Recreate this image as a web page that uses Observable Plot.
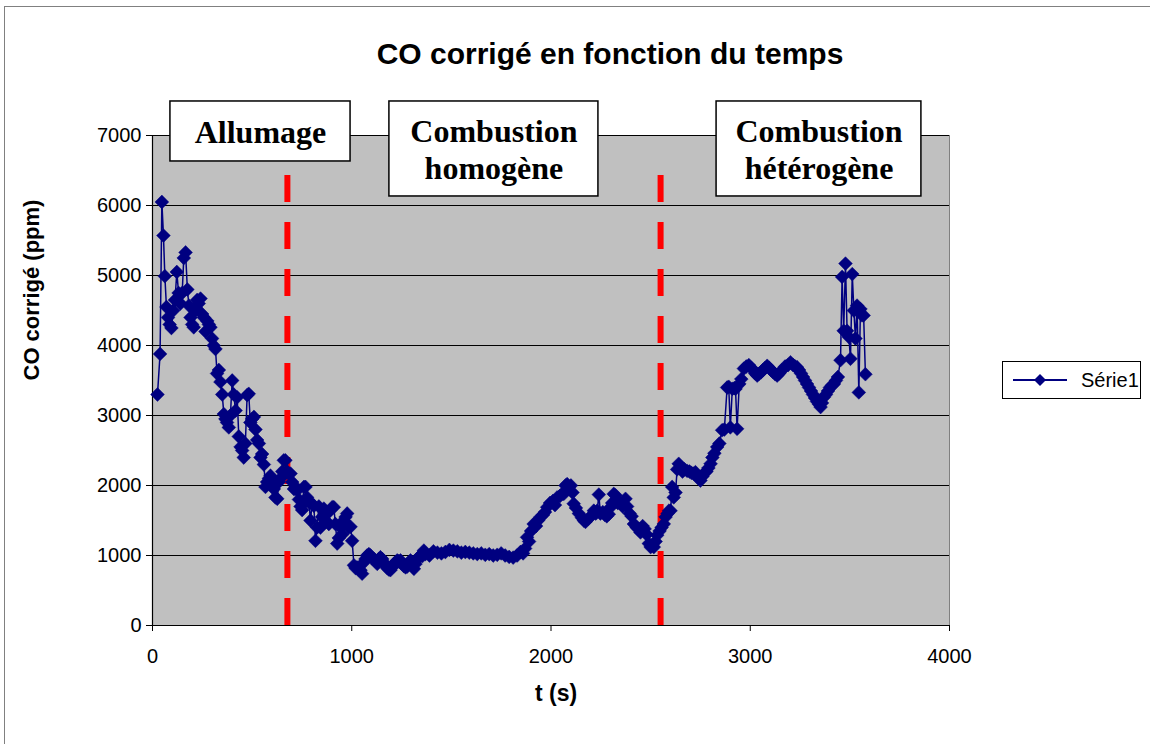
<!DOCTYPE html>
<html>
<head>
<meta charset="utf-8">
<script src="https://cdn.jsdelivr.net/npm/d3@7"></script>
<script src="https://cdn.jsdelivr.net/npm/@observablehq/plot@0.6"></script>
<style>
  html, body { margin: 0; padding: 0; background: #fff; }
  #wrap { position: relative; width: 1150px; height: 744px; overflow: hidden; font-family: "Liberation Sans", Arial, sans-serif; }
  #border { position: absolute; left: 4px; top: 6px; width: 1160px; height: 760px; border: 1px solid #808080; box-sizing: border-box; }
  #title { position: absolute; left: 0; width: 1220px; top: 37px; text-align: center; font-weight: bold; font-size: 30px; color: #000; }
  #legend { position: absolute; left: 1002px; top: 361px; width: 139px; height: 38px; border: 1px solid #000; box-sizing: border-box; background: #fff; display: flex; align-items: center; }
  #legend span { font-size: 20px; margin-left: 4px; }
  #chart { position: absolute; left: 0; top: 0; }
</style>
</head>
<body>
<div id="wrap">
  <div id="border"></div>
  <div id="chart"></div>
  <div id="title"></div>
  <div id="legend"></div>
</div>
<script>
// ---- data ----
const titleText = "CO corrigé en fonction du temps";
const xLabel = "t (s)";
const yLabel = "CO corrigé (ppm)";
const seriesName = "Série1";

const times = [25,38,47,55,62,70,78,86,95,104,113,122,131,140,149,157,166,175,183,191,199,207,215,224,232,241,249,258,266,275,283,291,299,307,316,324,333,341,350,358,366,374,383,391,400,408,417,425,433,442,450,458,466,475,483,491,500,509,517,525,534,542,550,559,567,575,584,592,600,609,617,626,634,642,651,659,667,676,684,693,701,710,718,726,735,743,751,760,768,776,785,793,801,810,818,826,835,843,851,860,868,877,885,893,902,910,918,927,935,944,952,960,969,977,985,994,1002,1011,1019,1027,1036,1044,1052,1060,1069,1077,1086,1094,1103,1111,1119,1128,1136,1144,1153,1161,1170,1178,1186,1194,1203,1211,1220,1228,1236,1245,1253,1261,1270,1278,1287,1295,1304,1312,1320,1329,1337,1345,1354,1362,1370,1390,1410,1430,1450,1470,1490,1510,1530,1550,1570,1590,1610,1630,1650,1670,1690,1710,1730,1750,1770,1790,1810,1830,1847,1860,1870,1880,1890,1900,1913,1925,1935,1947,1960,1970,1981,1995,2010,2020,2031,2045,2055,2064,2073,2081,2090,2100,2108,2114,2125,2140,2155,2165,2173,2185,2200,2215,2225,2232,2240,2248,2260,2270,2280,2290,2299,2307,2315,2324,2335,2349,2360,2374,2382,2395,2405,2416,2430,2440,2449,2460,2470,2480,2491,2500,2508,2516,2525,2533,2545,2555,2566,2575,2585,2592,2600,2608,2616,2625,2633,2641,2650,2660,2670,2683,2695,2705,2715,2725,2733,2742,2750,2760,2770,2780,2790,2801,2810,2820,2834,2845,2859,2870,2884,2892,2900,2910,2920,2926,2934,2945,2955,2968,2980,2993,3005,3015,3025,3035,3045,3055,3065,3075,3085,3095,3105,3115,3125,3135,3145,3160,3175,3190,3202,3215,3225,3235,3245,3255,3265,3275,3285,3295,3305,3315,3325,3335,3345,3353,3360,3369,3380,3390,3400,3410,3420,3430,3440,3453,3461,3469,3478,3486,3495,3503,3512,3520,3528,3536,3545,3553,3561,3569,3578];

const coValues = [3300,3880,6050,5570,4990,4550,4400,4300,4250,4500,4650,5050,4750,4600,4750,5250,5330,4800,4570,4400,4300,4260,4500,4650,4600,4670,4450,4400,4200,4350,4300,4260,4100,4000,3950,3600,3650,3480,3300,3020,2950,2900,2830,3000,3500,3300,3070,3260,2700,2550,2500,2400,2600,3290,3310,2900,2950,2980,2800,2650,2600,2400,2450,2300,1980,2050,2100,2140,2000,1950,1830,1810,2050,2100,2200,2360,2360,2200,2170,2170,2050,1950,1980,1930,1800,1700,1650,1980,1980,1830,1760,1500,1740,1710,1210,1400,1700,1400,1550,1670,1500,1600,1450,1650,1690,1690,1450,1170,1250,1400,1300,1500,1550,1600,1400,1410,1210,860,820,830,800,790,740,900,950,1000,1020,1000,960,950,920,880,950,975,950,900,860,820,800,790,830,880,900,930,920,930,880,850,830,840,900,930,880,810,880,950,980,1000,990,1070,1020,1000,1060,1040,1030,1050,1080,1070,1060,1040,1050,1040,1030,1020,1030,1010,1020,1000,1010,1030,1000,980,970,1000,1050,1030,1100,1260,1200,1350,1450,1420,1500,1550,1580,1620,1690,1750,1780,1720,1830,1850,1880,1880,2000,2020,1980,2000,1900,1740,1680,1600,1540,1500,1480,1520,1560,1640,1600,1640,1870,1600,1620,1580,1560,1590,1690,1750,1880,1860,1750,1740,1700,1810,1700,1600,1560,1450,1400,1380,1330,1420,1380,1300,1170,1120,1150,1120,1200,1290,1350,1400,1450,1550,1600,1640,1640,1980,1830,1900,2230,2310,2260,2200,2230,2210,2200,2180,2170,2190,2140,2100,2070,2130,2180,2200,2250,2310,2400,2460,2550,2600,2790,2800,3400,3410,2830,3380,3390,3380,2810,3450,3520,3670,3700,3720,3680,3650,3600,3570,3600,3620,3650,3680,3710,3680,3650,3620,3590,3570,3600,3650,3700,3720,3760,3720,3700,3690,3650,3600,3550,3500,3450,3400,3350,3300,3250,3200,3160,3120,3180,3260,3300,3350,3400,3430,3450,3500,3550,3790,4980,4210,5170,4210,4120,3810,5020,4500,4100,4570,3330,4520,4430,4430,3590];

const xTicks = [0, 1000, 2000, 3000, 4000];
const yTicks = [0, 1000, 2000, 3000, 4000, 5000, 6000, 7000];

// phase boundaries (red dashed lines)
const phaseBounds = [677, 2550];
const phaseTop = 6430;

// annotation boxes (labels and their extents in data units)
const boxLabels = ["Allumage", "Combustion\nhomogène", "Combustion\nhétérogène"];
const boxX1 = [90, 1189, 2831];
const boxX2 = [994, 2238, 3859];
const boxY1 = [6629, 6129, 6129];
const boxY2 = [7486, 7486, 7486];

// ---- build ----
const data = times.map((t, i) => ({t, co: coValues[i]}));
const boxes = boxLabels.map((label, i) => ({label, x1: boxX1[i], x2: boxX2[i], y1: boxY1[i], y2: boxY2[i]}));
const bounds = phaseBounds.map(t => ({t, top: phaseTop}));

const navy = "#000080";
const font = "'Liberation Sans', Arial, sans-serif";

const chart = Plot.plot({
  width: 1150,
  height: 744,
  marginLeft: 152,
  marginRight: 201,
  marginTop: 135,
  marginBottom: 119,
  style: {fontFamily: font, fontSize: "20px", color: "#000", background: "transparent", overflow: "visible"},
  x: {domain: [0, 4000]},
  y: {domain: [0, 7000]},
  marks: [
    Plot.frame({fill: "#c0c0c0", stroke: "#808080"}),
    Plot.ruleY(yTicks.filter(d => d > 0), {stroke: "#000", strokeWidth: 1.2}),
    Plot.axisY({ticks: yTicks, tickFormat: d => String(d), tickSize: 6, tickPadding: 5, label: null, fontSize: 20, stroke: "#000"}),
    Plot.axisX({ticks: xTicks, tickFormat: d => String(d), tickSize: 6, tickPadding: 17, label: null, fontSize: 20, stroke: "#000"}),
    Plot.ruleX([0], {stroke: "#000", strokeWidth: 1.2}),
    Plot.ruleY([0], {stroke: "#000", strokeWidth: 1.2}),
    Plot.ruleX(bounds, {x: "t", y1: "top", y2: 0, stroke: "#ff0000", strokeWidth: 6, strokeDasharray: "27,20"}),
    Plot.line(data, {x: "t", y: "co", stroke: navy, strokeWidth: 1.5}),
    Plot.dot(data, {x: "t", y: "co", symbol: "diamond2", r: 6.2, fill: navy, stroke: navy, strokeWidth: 0.5}),
    Plot.rect(boxes, {x1: "x1", x2: "x2", y1: "y1", y2: "y2", fill: "#fff", stroke: "#000", strokeWidth: 1.5}),
    Plot.text(boxes, {x: d => (d.x1 + d.x2) / 2, y: d => (d.y1 + d.y2) / 2, text: "label", fontFamily: "'Liberation Serif', 'Times New Roman', serif", fontWeight: "bold", fontSize: 32, lineHeight: 1.15, fill: "#000"}),
    Plot.text([yLabel], {frameAnchor: "left", text: d => d, rotate: -90, dx: -121, fontWeight: "bold", fontSize: 22, fill: "#000"}),
    Plot.text([xLabel], {frameAnchor: "bottom", text: d => d, dy: 75, dx: 5, fontWeight: "bold", fontSize: 23, fill: "#000"})
  ]
});
document.getElementById("chart").appendChild(chart);

document.getElementById("title").textContent = titleText;
document.getElementById("legend").innerHTML =
  `<svg width="64" height="20" style="margin-left:10px"><line x1="0" y1="10" x2="54" y2="10" stroke="${navy}" stroke-width="2"/><path d="M27,4 L33,10 L27,16 L21,10 Z" fill="${navy}"/></svg><span>${seriesName}</span>`;
</script>
</body>
</html>
